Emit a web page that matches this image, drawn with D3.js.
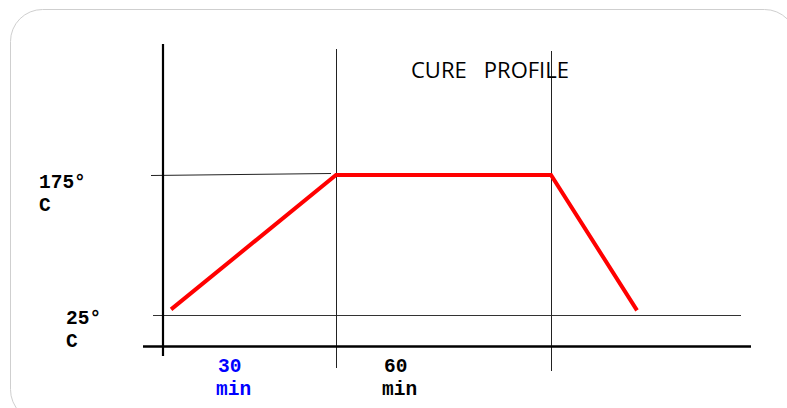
<!DOCTYPE html>
<html>
<head>
<meta charset="utf-8">
<script src="https://cdn.jsdelivr.net/npm/d3@7"></script>
<style>
  body { margin: 0; background: #fff; }
  svg { display: block; }
</style>
</head>
<body>
<div id="vis"></div>
<script>
// Cure profile data (minutes, degrees C)
const profileTimes = [1.4, 30, 90, 114]
const profileTemps = [31, 175, 175, 30]

// Phase boundaries and reference temperatures
const phaseBreaks = [30, 90]
const refTemps = [175, 25]
const tempLabels = ["175°", "25°"]
const durationLabels = ["30", "60"]
const durationColors = ["#0000ff", "#000000"]
const titleText = "CURE   PROFILE"

const width = 787
const height = 408

// Schematic chart: phases are not drawn to the same scale, so a piecewise scale
var x_scale = d3.scaleLinear()
    .domain([0, 30, 90])
    .range([163, 336, 551])

var y_scale = d3.scaleLinear()
    .domain([25, 175])
    .range([315, 175])

let svg = d3.select("#vis")
    .append("svg")
    .attr("width", width)
    .attr("height", height)

// card background
svg.append("rect")
    .attr("x", 10.5)
    .attr("y", 9.5)
    .attr("width", 786)
    .attr("height", 412)
    .attr("rx", 32)
    .attr("fill", "#fff")
    .attr("stroke", "#cfcfcf")
    .attr("stroke-width", 1)

// reference lines for the temperatures
svg.append("line")
    .attr("x1", 151).attr("y1", y_scale(refTemps[0]) + 0.5)
    .attr("x2", x_scale(phaseBreaks[0]) - 5).attr("y2", y_scale(refTemps[0]) - 1.5)
    .attr("stroke", "#222").attr("stroke-width", 1)

svg.append("line")
    .attr("x1", 153).attr("y1", y_scale(refTemps[1]) + 0.5)
    .attr("x2", 741).attr("y2", y_scale(refTemps[1]) + 0.5)
    .attr("stroke", "#333").attr("stroke-width", 1)

// phase boundary lines
svg.selectAll(".phase")
    .data(phaseBreaks)
    .enter()
    .append("line")
    .attr("class", "phase")
    .attr("x1", d => Math.round(x_scale(d)) + 0.5)
    .attr("x2", d => Math.round(x_scale(d)) + 0.5)
    .attr("y1", (d, i) => i == 0 ? 49 : 51)
    .attr("y2", (d, i) => i == 0 ? 368 : 371)
    .attr("stroke", "#222")
    .attr("stroke-width", 1)

// axes
svg.append("line")
    .attr("x1", 163).attr("x2", 163)
    .attr("y1", 44).attr("y2", 356)
    .attr("stroke", "#000").attr("stroke-width", 2.2)

svg.append("line")
    .attr("x1", 143).attr("x2", 751)
    .attr("y1", 346.5).attr("y2", 346.5)
    .attr("stroke", "#000").attr("stroke-width", 2.5)

// the profile itself
const line = d3.line()
    .x((d, i) => x_scale(profileTimes[i]))
    .y(d => y_scale(d))

svg.append("path")
    .datum(profileTemps)
    .attr("d", line)
    .attr("fill", "none")
    .attr("stroke", "#ff0000")
    .attr("stroke-width", 4)
    .attr("stroke-linejoin", "miter")

// temperature labels (two lines each)
const monoFont = "'Liberation Mono', 'Courier New', monospace"
const tempLabelX = [39, 66]
const tempLabelY = [188, 324]

tempLabels.forEach(function(t, i){
    let txt = svg.append("text")
        .attr("x", tempLabelX[i])
        .attr("y", tempLabelY[i])
        .attr("font-family", monoFont)
        .attr("font-weight", "bold")
        .attr("font-size", 19.5)
        .attr("fill", "#000")
    txt.append("tspan").attr("x", tempLabelX[i]).text(t)
    txt.append("tspan").attr("x", tempLabelX[i]).attr("dy", 23).text("C")
})

// duration labels under the axis
const durLabelX = [217, 383]
durationLabels.forEach(function(t, i){
    let txt = svg.append("text")
        .attr("y", 372)
        .attr("font-family", monoFont)
        .attr("font-weight", "bold")
        .attr("font-size", 19.5)
        .attr("fill", durationColors[i])
    txt.append("tspan").attr("x", durLabelX[i] + 1).text(t)
    txt.append("tspan").attr("x", durLabelX[i] - 1).attr("dy", 23).text("min")
})

// title
svg.append("text")
    .attr("x", 411)
    .attr("y", 78)
    .attr("font-family", "'Open Sans', sans-serif")
    .attr("font-size", 22)
    .attr("fill", "#000")
    .attr("xml:space", "preserve")
    .style("white-space", "pre")
    .text(titleText)
</script>
</body>
</html>
